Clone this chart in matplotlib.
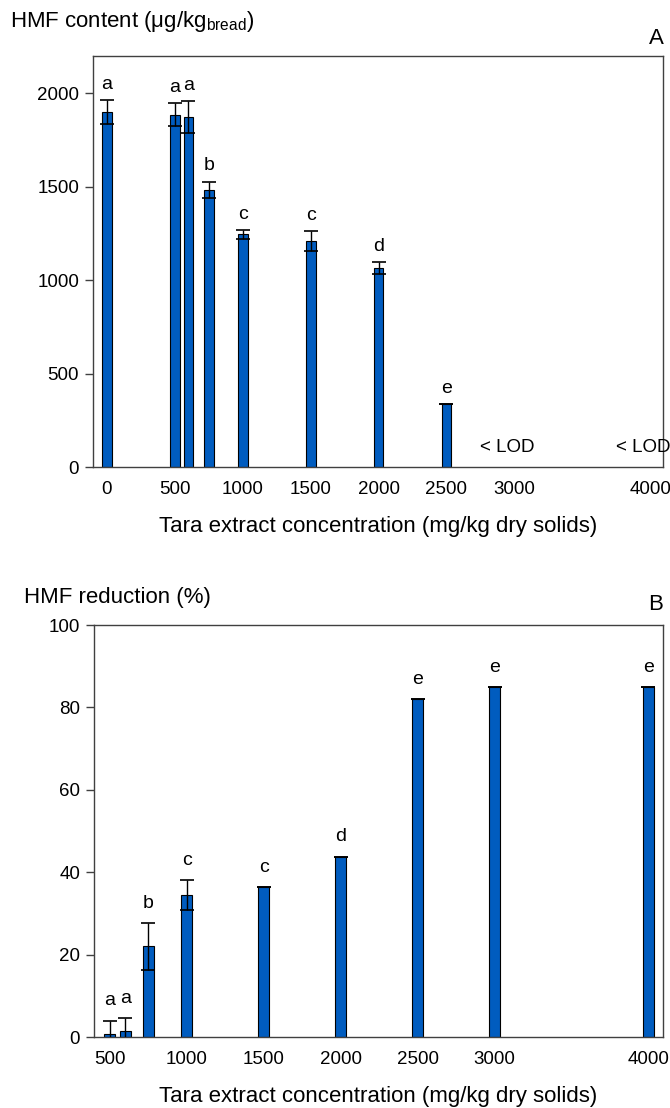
import matplotlib
matplotlib.use("Agg")
import matplotlib.pyplot as plt

plt.rcParams['font.family'] = ['Liberation Sans', 'DejaVu Sans']

# Panel A: HMF content
conc_a = [0, 500, 600, 750, 1000, 1500, 2000, 2500]
hmf_content = [1900, 1886, 1873, 1483, 1245, 1210, 1065, 338]
hmf_content_err = [65, 60, 85, 45, 25, 55, 32, 0]
letters_a = ['a', 'a', 'a', 'b', 'c', 'c', 'd', 'e']
lod_conc = [3000, 4000]
xticks_a = [0, 500, 1000, 1500, 2000, 2500, 3000, 4000]

# Panel B: HMF reduction
conc_b = [500, 600, 750, 1000, 1500, 2000, 2500, 3000, 4000]
hmf_reduction = [0.8, 1.4, 22.0, 34.5, 36.3, 43.8, 82.0, 84.9, 84.9]
hmf_reduction_err = [3.2, 3.1, 5.7, 3.6, 0, 0, 0, 0, 0]
letters_b = ['a', 'a', 'b', 'c', 'c', 'd', 'e', 'e', 'e']
xticks_b = [500, 1000, 1500, 2000, 2500, 3000, 4000]

BAR_COLOR = '#005CBF'
SPINE = '#404040'
W = 670
H = 1108

fig = plt.figure(figsize=(W / 100, H / 100), dpi=100)

def fx(px):
    return px / W

def fy(py):
    return 1 - py / H

axA = fig.add_axes([fx(93), fy(467), fx(663 - 93), (467 - 56) / H])
axB = fig.add_axes([fx(94), fy(1037), fx(663 - 94), (1037 - 625) / H])

def style(ax):
    for s in ax.spines.values():
        s.set_color(SPINE)
        s.set_linewidth(1.0)
    ax.tick_params(axis='x', length=0, labelsize=13.5, pad=10)
    ax.tick_params(axis='y', length=6, width=1, color=SPINE, direction='out',
                   labelsize=13.5, pad=4)

bw = 72

axA.bar(conc_a, hmf_content, width=bw, color=BAR_COLOR, edgecolor='black',
        linewidth=0.8, zorder=2)
axA.errorbar(conc_a, hmf_content, yerr=hmf_content_err, fmt='none',
             ecolor='black', elinewidth=1.0, capsize=5, capthick=1.2, zorder=3)
for x, v, e, t in zip(conc_a, hmf_content, hmf_content_err, letters_a):
    axA.annotate(t, (x, v + e), xytext=(0, 8), textcoords='offset points',
                 ha='center', va='baseline', fontsize=14)
for x in lod_conc:
    axA.annotate('< LOD', (x, 0), xytext=(-5, 11), textcoords='offset points',
                 ha='center', va='baseline', fontsize=13.5)
axA.set_xlim(-103, 4095)
axA.set_ylim(0, 2200)
axA.set_yticks([0, 500, 1000, 1500, 2000])
axA.set_xticks(xticks_a)
style(axA)
axA.set_xlabel('Tara extract concentration (mg/kg dry solids)', fontsize=16,
               labelpad=13)

axB.bar(conc_b, hmf_reduction, width=bw, color=BAR_COLOR, edgecolor='black',
        linewidth=0.8, zorder=2)
axB.errorbar(conc_b, hmf_reduction, yerr=hmf_reduction_err, fmt='none',
             ecolor='black', elinewidth=1.0, capsize=5, capthick=1.2, zorder=3)
for x, v, e, t in zip(conc_b, hmf_reduction, hmf_reduction_err, letters_b):
    axB.annotate(t, (x, v + e), xytext=(0, 11), textcoords='offset points',
                 ha='center', va='baseline', fontsize=14)
axB.set_xlim(397, 4095)
axB.set_ylim(0, 100)
axB.set_yticks([0, 20, 40, 60, 80, 100])
axB.set_xticks(xticks_b)
style(axB)
axB.set_xlabel('Tara extract concentration (mg/kg dry solids)', fontsize=16,
               labelpad=13)

fig.text(fx(10), fy(22), 'HMF content (\u03bcg/kg$_\\mathregular{bread}$)',
         fontsize=16, ha='left', va='center')
fig.text(fx(656), fy(38), 'A', fontsize=16, ha='center', va='center')
fig.text(fx(24), fy(598), 'HMF reduction (%)', fontsize=16, ha='left',
         va='center')
fig.text(fx(656), fy(605), 'B', fontsize=16, ha='center', va='center')

fig.savefig('out.png', dpi=100)
